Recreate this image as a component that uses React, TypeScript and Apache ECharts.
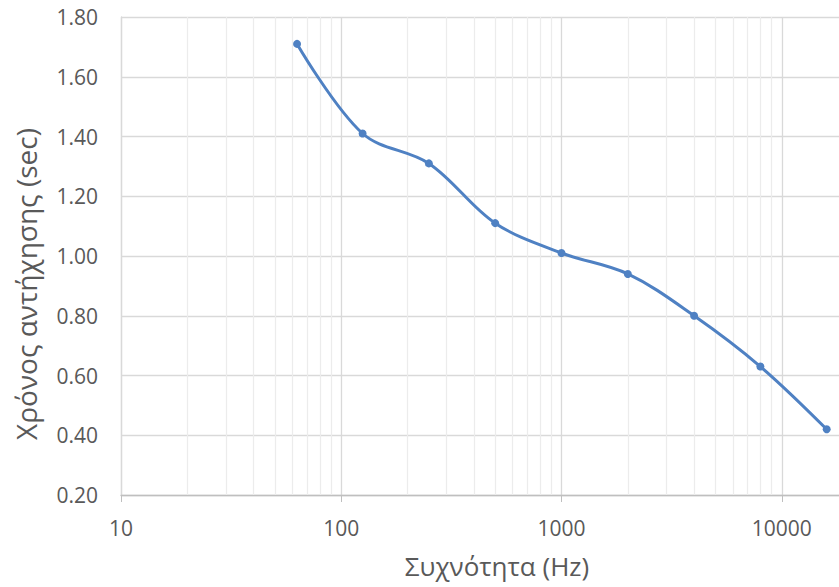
import React, { useEffect, useRef } from "react";
import * as echarts from "echarts";

const frequencies = [63, 125, 250, 500, 1000, 2000, 4000, 8000, 16000];
const reverbTimes = [1.71, 1.41, 1.31, 1.11, 1.01, 0.94, 0.80, 0.63, 0.42];
const decades = [10, 100, 1000, 10000];
const minorSteps = [2, 3, 4, 5, 6, 7, 8, 9];
const xTitle = "Συχνότητα (Hz)";
const yTitle = "Χρόνος αντήχησης (sec)";

const FONT = "'Open Sans', 'Noto Sans', sans-serif";

export default function App() {
  const ref = useRef<HTMLDivElement>(null);
  useEffect(() => {
    if (!ref.current) return;
    const chart = echarts.init(ref.current, null, { renderer: "svg" });
    const minorLines: any[] = [];
    decades.forEach((d) => minorSteps.forEach((k) => minorLines.push({ xAxis: d * k })));
    chart.setOption({
      animation: false,
      backgroundColor: "#ffffff",
      grid: { left: 121, top: 17, bottom: 92, right: 9, outerBoundsMode: "none", containLabel: false },
      xAxis: {
        type: "log",
        logBase: 10,
        min: 10,
        max: 100000,
        axisLine: { show: true, lineStyle: { color: "#bfbfbf", width: 1.3 } },
        axisTick: { show: true, inside: false, length: 7, lineStyle: { color: "#bfbfbf" } },
        axisLabel: {
          color: "#595959",
          fontSize: 21,
          fontFamily: FONT,
          margin: 22,
          showMaxLabel: false,
          formatter: (v: number) => (v >= 100000 ? "" : String(Math.round(v))),
        },
        splitLine: { show: true, lineStyle: { color: "#d9d9d9", width: 1.3 } },
      },
      yAxis: {
        type: "value",
        min: 0.2,
        max: 1.8,
        interval: 0.2,
        axisLine: { show: true, lineStyle: { color: "#d9d9d9", width: 1.3 } },
        axisTick: { show: false },
        axisLabel: {
          color: "#595959",
          fontSize: 21,
          fontFamily: FONT,
          margin: 23,
          formatter: (v: number) => v.toFixed(2),
        },
        splitLine: { show: true, lineStyle: { color: "#d9d9d9", width: 1.3 } },
      },
      series: [
        {
          type: "line",
          data: frequencies.map((f, i) => [f, reverbTimes[i]]),
          smooth: 0.35,
          symbol: "circle",
          symbolSize: 8,
          lineStyle: { color: "#4f81c3", width: 3 },
          itemStyle: { color: "#4f81c3" },
          z: 5,
          markLine: {
            silent: true,
            symbol: "none",
            animation: false,
            label: { show: false },
            lineStyle: { color: "#ececec", width: 1.2, type: "solid" },
            data: minorLines,
            z: 1,
          },
        },
      ],
      graphic: [
        {
          type: "text",
          x: 497,
          y: 566,
          style: {
            text: xTitle,
            fill: "#595959",
            font: `26px ${FONT}`,
            align: "center",
            verticalAlign: "middle",
          },
        },
        {
          type: "text",
          x: 26,
          y: 284,
          rotation: Math.PI / 2,
          style: {
            text: yTitle,
            fill: "#595959",
            font: `28px ${FONT}`,
            align: "center",
            verticalAlign: "middle",
          },
        },
      ],
    });
    return () => chart.dispose();
  }, []);
  return (
    <div style={{ position: "fixed", left: 0, top: 0, width: 839, height: 587, overflow: "hidden" }}>
      <div ref={ref} style={{ width: 1011, height: 587 }} />
    </div>
  );
}
